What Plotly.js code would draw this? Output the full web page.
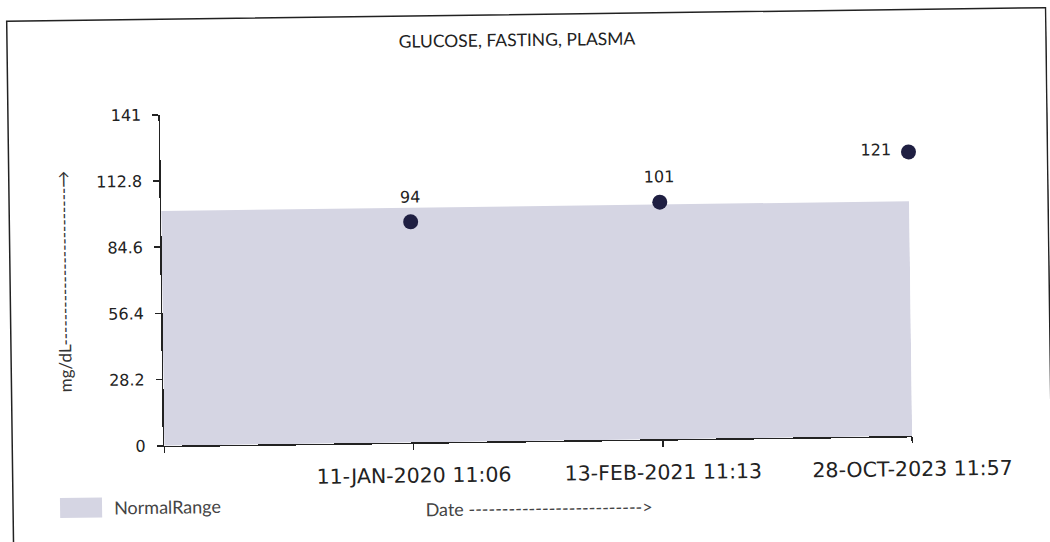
<!DOCTYPE html>
<html>
<head>
<meta charset="utf-8">
<script src="https://cdn.plot.ly/plotly-3.0.1.min.js"></script>
<style>
html,body{margin:0;padding:0;background:#fff;overflow:hidden;}
#chart{width:1050px;height:542px;transform:rotate(-0.75deg);transform-origin:525px 271px;}
</style>
</head>
<body>
<div id="chart"></div>
<script>
const categories = ['11-JAN-2020 11:06', '13-FEB-2021 11:13', '28-OCT-2023 11:57'];
const glucoseValues = [94, 101, 121];
const normalRangeUpper = 100;
const yTickVals = [0, 28.2, 56.4, 84.6, 112.8, 141];
const yTickText = ['0', '28.2', '56.4', '84.6', '112.8', '141'];
const labelPositions = ['above', 'above', 'left'];

const catPos = categories.map((c, i) => i + 1);

const L = 162, R = 910, T = 110, B = 441, W = 1050, H = 542;
function px(x){ return (x - L) / (R - L); }
function py(y){ return (B - y) / (B - T); }

const normalTrace = {
  x: [0, catPos[catPos.length - 1]],
  y: [normalRangeUpper, normalRangeUpper],
  type: 'scatter',
  mode: 'none',
  fill: 'tozeroy',
  fillcolor: 'rgb(213,213,227)',
  name: 'NormalRange',
  hoverinfo: 'skip',
  showlegend: false
};

const pointTrace = {
  x: catPos,
  y: glucoseValues,
  type: 'scatter',
  mode: 'markers',
  marker: { color: '#1f1f42', size: 15 },
  showlegend: false,
  cliponaxis: false
};

const labelFont = { family: 'DejaVu Sans', size: 16, color: '#222' };
const valueAnnotations = glucoseValues.map((v, i) => {
  const pos = labelPositions[i];
  return {
    x: catPos[i], y: v, xref: 'x', yref: 'y',
    text: String(v), showarrow: false, font: labelFont,
    xanchor: pos === 'left' ? 'right' : 'center',
    yanchor: 'middle',
    xshift: pos === 'left' ? -15 : 0,
    yshift: pos === 'left' ? 2 : 25
  };
});

const sideFont = { family: 'Lato, Liberation Sans, sans-serif', size: 18, color: '#444' };

const layout = {
  width: W, height: H,
  margin: { l: L, r: W - R, t: T, b: H - B, pad: 0 },
  paper_bgcolor: '#fff',
  plot_bgcolor: '#fff',
  title: {
    text: 'GLUCOSE, FASTING, PLASMA',
    font: { family: 'Lato, Liberation Sans, sans-serif', size: 17.5, color: '#222' },
    xref: 'container', x: 520 / W, xanchor: 'center',
    yref: 'container', y: 1 - 40 / H, yanchor: 'middle'
  },
  xaxis: {
    range: [0, 3],
    tickvals: [0].concat(catPos),
    ticktext: [''].concat(categories),
    ticks: 'outside', ticklen: 6, tickcolor: '#222', tickwidth: 1.5,
    ticklabelstandoff: 8,
    showline: true, linecolor: '#222', linewidth: 1.5,
    showgrid: false, zeroline: false,
    tickfont: { family: 'DejaVu Sans', size: 20.5, color: '#222' },
    title: { text: 'Date -------------------------->', font: sideFont, standoff: 17 },
    fixedrange: true
  },
  yaxis: {
    range: [0, 141],
    tickvals: yTickVals,
    ticktext: yTickText,
    ticks: 'outside', ticklen: 6, tickcolor: '#222', tickwidth: 1.5,
    ticklabelstandoff: 8,
    showline: true, linecolor: '#222', linewidth: 1.5,
    showgrid: false, zeroline: false,
    tickfont: { family: 'DejaVu Sans', size: 16, color: '#222' },
    title: { text: 'mg/dL-------------------------→', font: { family: 'Lato, Liberation Sans, sans-serif', size: 17, color: '#333' }, standoff: 22 },
    fixedrange: true
  },
  annotations: valueAnnotations.concat([
    { xref: 'paper', yref: 'paper', x: px(109), y: py(502), xanchor: 'left', yanchor: 'middle',
      text: normalTrace.name, showarrow: false, font: sideFont }
  ]),
  shapes: [
    { type: 'rect', xref: 'paper', yref: 'paper', x0: px(57), x1: px(99), y0: py(512), y1: py(492),
      fillcolor: normalTrace.fillcolor, line: { width: 0 } },
    { type: 'rect', xref: 'paper', yref: 'paper', x0: px(10), x1: px(1049), y0: py(14.5), y1: py(547),
      line: { color: '#222', width: 1.5 }, layer: 'above' }
  ],
  showlegend: false
};

Plotly.newPlot('chart', [normalTrace, pointTrace], layout, { displayModeBar: false, staticPlot: true });
</script>
</body>
</html>
